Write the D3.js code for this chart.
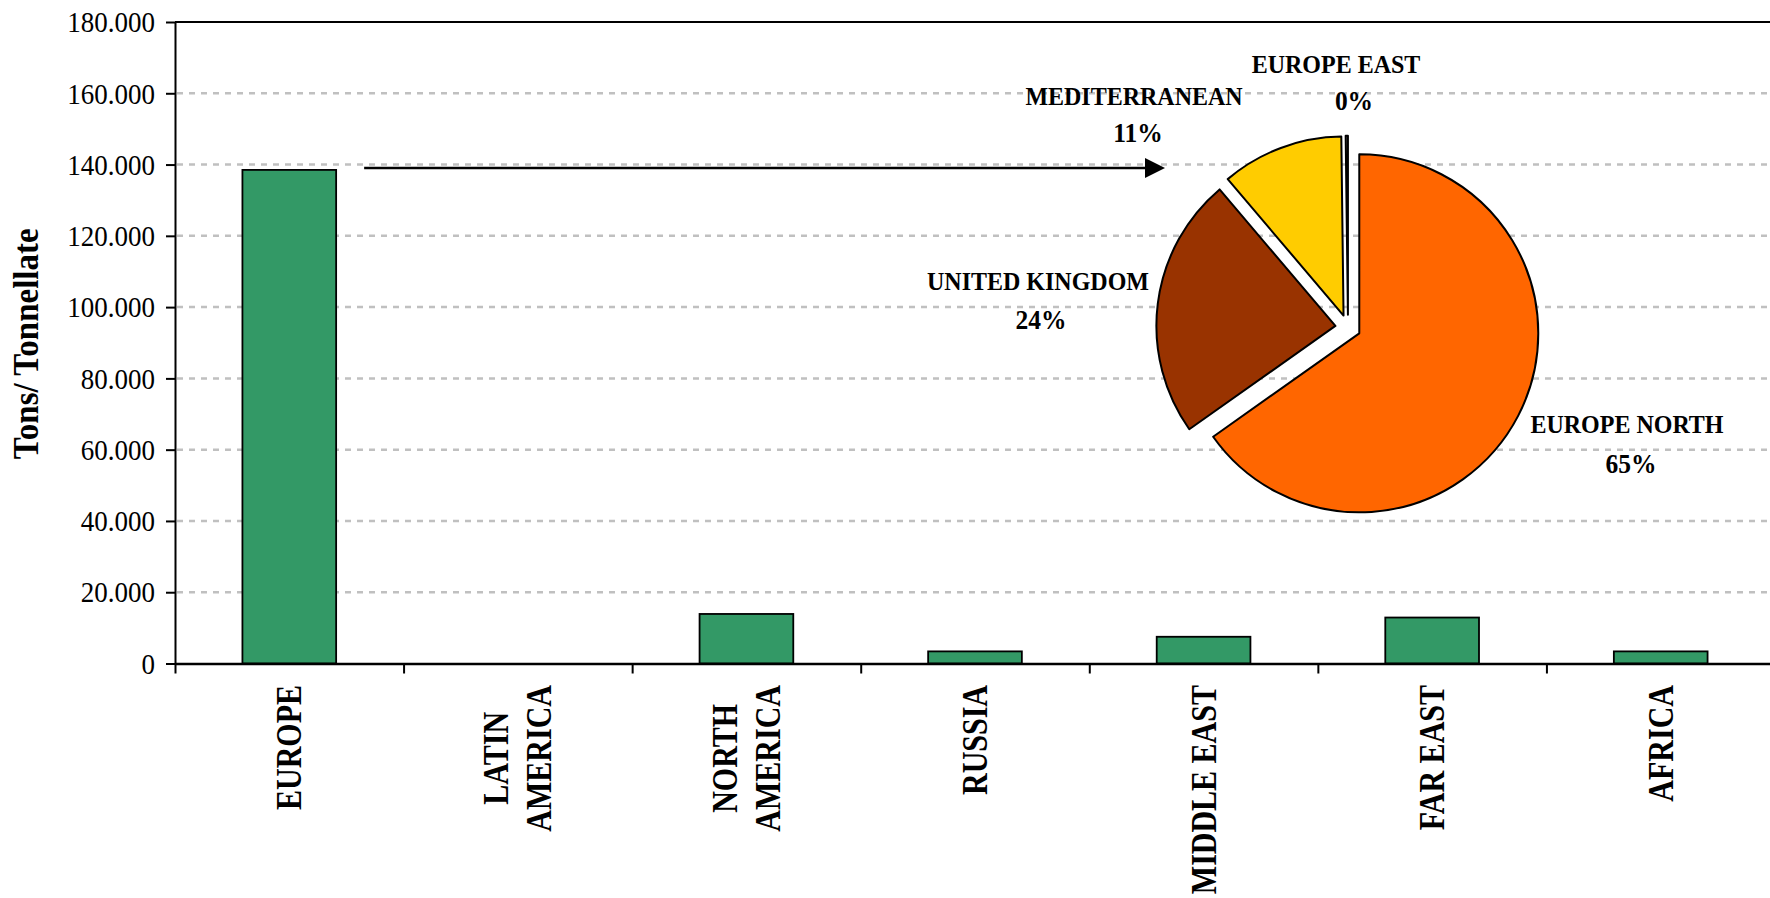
<!DOCTYPE html>
<html>
<head>
<meta charset="utf-8">
<script src="https://cdn.jsdelivr.net/npm/d3@7"></script>
<style>
  body { margin: 0; background: #fff; }
  svg { display: block; font-family: "Liberation Serif", "Times New Roman", serif; }
</style>
</head>
<body>
<svg id="chart" width="1770" height="898"></svg>
<script>
// bar chart data (tons)
const categories = ["EUROPE", "LATIN\nAMERICA", "NORTH\nAMERICA", "RUSSIA", "MIDDLE EAST", "FAR EAST", "AFRICA"];
const tons = [138500, 0, 13900, 3400, 7500, 12900, 3400];
const yTicks = [0, 20000, 40000, 60000, 80000, 100000, 120000, 140000, 160000, 180000];

// breakdown of EUROPE (share %)
const pieRegions = ["EUROPE NORTH", "UNITED KINGDOM", "MEDITERRANEAN", "EUROPE EAST"];
const pieShares = [65.2, 23.6, 11.0, 0.2];
const pieLabels = ["65%", "24%", "11%", "0%"];
const pieColors = ["#FF6600", "#993300", "#FFCC00", "#969696"];

const W = 1770, H = 898;
const plot = { left: 175, top: 22, right: 1775, bottom: 663.5 };

// where the pie labels sit (name line / percent line)
const pieLabelPos = [
    { nx: 1627, ny: 433, px: 1631, py: 473 },
    { nx: 1038, ny: 290, px: 1041, py: 329 },
    { nx: 1134, ny: 105, px: 1138, py: 142 },
    { nx: 1336, ny: 73,  px: 1354, py: 110 }
];
const pieCenter = { x: 1348, y: 327.5, r: 179, explode: 12.7 };

const svg = d3.select("#chart");

const x = d3.scaleBand().domain(categories).range([plot.left, plot.right]).padding(0);
const xb = d3.scaleLinear().domain([0, categories.length]).range([plot.left, plot.right]); // band edges for ticks
const y = d3.scaleLinear().domain([0, 180000]).range([plot.bottom, plot.top]);

const it = d3.formatLocale({ decimal: ",", thousands: ".", grouping: [3], currency: ["", ""] });
const fmt = it.format(",");

// gridlines
svg.append("g").attr("class", "grid")
    .selectAll("line")
    .data(yTicks.filter(t => t > 0 && t < 180000))
    .enter().append("line")
    .attr("x1", plot.left + 2).attr("x2", W)
    .attr("y1", d => y(d)).attr("y2", d => y(d))
    .attr("stroke", "#c0c0c0")
    .attr("stroke-width", 2.5)
    .attr("stroke-dasharray", "6,6");

// top border of plot area
svg.append("line")
    .attr("x1", plot.left).attr("x2", W)
    .attr("y1", y(180000)).attr("y2", y(180000))
    .attr("stroke", "#000").attr("stroke-width", 2);

// bars
const barW = x.bandwidth() * 0.41;
svg.append("g").attr("class", "bars")
    .selectAll("rect")
    .data(categories.map((c, i) => ({ c: c, v: tons[i] })).filter(d => d.v > 0))
    .enter().append("rect")
    .attr("x", d => x(d.c) + (x.bandwidth() - barW) / 2)
    .attr("y", d => y(d.v))
    .attr("width", barW)
    .attr("height", d => plot.bottom - y(d.v))
    .attr("fill", "#339966")
    .attr("stroke", "#000")
    .attr("stroke-width", 1.8);

// y axis
const yAxis = svg.append("g")
    .attr("transform", `translate(${plot.left},0)`)
    .call(d3.axisLeft(y).tickValues(yTicks).tickSize(9).tickSizeOuter(0).tickFormat(fmt));
yAxis.select(".domain").attr("stroke-width", 2);
yAxis.selectAll(".tick line").attr("stroke-width", 2);
yAxis.selectAll(".tick text")
    .attr("x", -20)
    .attr("font-size", 27)
    .attr("font-family", "Liberation Serif, Times New Roman, serif")
    .attr("fill", "#000")
    .attr("transform", "scale(1,1.13)");

// x axis (ticks between categories)
const xAxis = svg.append("g")
    .attr("transform", `translate(0,${plot.bottom})`)
    .call(d3.axisBottom(xb).tickValues(d3.range(categories.length + 1)).tickSize(10).tickSizeOuter(0).tickFormat(""));
xAxis.select(".domain").attr("stroke-width", 2.5);
xAxis.selectAll(".tick line").attr("stroke-width", 2);

// category labels, rotated, multi-line centred, top aligned under axis
const lineGap = 43, capH = 24, labelTop = 685;
const labelG = svg.append("g").attr("class", "xlabels")
    .attr("font-size", 30).attr("font-weight", "bold").attr("fill", "#000");
categories.forEach(c => {
    const lines = c.split("\n");
    const cx = x(c) + x.bandwidth() / 2;
    const texts = lines.map((ln, i) => {
        const bx = cx + capH / 2 + (i - (lines.length - 1) / 2) * lineGap;
        return labelG.append("text").text(ln).attr("text-anchor", "middle").datum(bx);
    });
    const maxLen = d3.max(texts, t => t.node().getComputedTextLength());
    texts.forEach(t => {
        t.attr("transform", `translate(${t.datum()},${labelTop + maxLen / 2}) rotate(-90) scale(1,1.2)`);
    });
});

// y axis title
svg.append("text")
    .attr("transform", `translate(38,${(plot.top + plot.bottom) / 2 + 1}) rotate(-90) scale(1,1.06)`)
    .attr("text-anchor", "middle")
    .attr("font-size", 33)
    .attr("font-weight", "bold")
    .text("Tons/ Tonnellate");

// arrow from the EUROPE bar to the pie
const arrowY = y(tons[0]) - 2;
const arrowX0 = x(categories[0]) + (x.bandwidth() + barW) / 2 + 28;
const arrowTip = pieCenter.x - pieCenter.r - 4;
svg.append("line")
    .attr("x1", arrowX0).attr("x2", arrowTip - 18)
    .attr("y1", arrowY).attr("y2", arrowY)
    .attr("stroke", "#000").attr("stroke-width", 2.5);
svg.append("path")
    .attr("d", `M${arrowTip - 20},${arrowY - 10} L${arrowTip},${arrowY} L${arrowTip - 20},${arrowY + 10} Z`)
    .attr("fill", "#000");

// exploded pie
const arcs = d3.pie().sort(null).value(d => d)(pieShares);
const arc = d3.arc().innerRadius(0).outerRadius(pieCenter.r);
svg.append("g").attr("class", "pie")
    .selectAll("path")
    .data(arcs)
    .enter().append("path")
    .attr("d", arc)
    .attr("transform", d => {
        const m = (d.startAngle + d.endAngle) / 2;
        const ox = pieCenter.explode * Math.sin(m), oy = -pieCenter.explode * Math.cos(m);
        return `translate(${pieCenter.x + ox},${pieCenter.y + oy})`;
    })
    .attr("fill", (d, i) => pieColors[i])
    .attr("stroke", "#000")
    .attr("stroke-width", 2)
    .attr("stroke-linejoin", "round");

// pie labels
const pl = svg.append("g").attr("class", "pielabels")
    .attr("font-weight", "bold").attr("text-anchor", "middle");
pieRegions.forEach((r, i) => {
    const p = pieLabelPos[i];
    pl.append("text").attr("transform", `translate(${p.nx},${p.ny}) scale(1,1.06)`)
        .attr("font-size", 24).text(r);
    pl.append("text").attr("transform", `translate(${p.px},${p.py}) scale(1,1.06)`)
        .attr("font-size", 25.5).text(pieLabels[i]);
});
</script>
</body>
</html>
